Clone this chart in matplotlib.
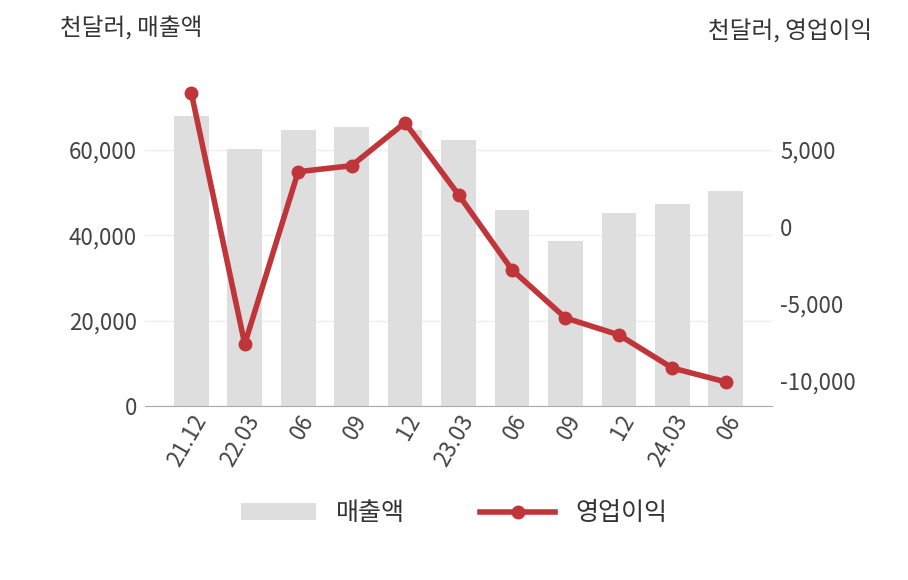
import matplotlib
matplotlib.use("Agg")
import matplotlib.pyplot as plt
import numpy as np

plt.rcParams['font.family'] = ['Noto Sans CJK KR', 'DejaVu Sans']

categories = ["21.12", "22.03", "06", "09", "12", "23.03", "06", "09", "12", "24.03", "06"]
sales = [68000, 60200, 64700, 65200, 64500, 62300, 45900, 38700, 45200, 47300, 50400]
op_income = [8700, -7600, 3570, 3960, 6750, 2080, -2790, -5910, -7010, -9160, -10060]

fig = plt.figure(figsize=(9.08, 5.80), dpi=100)
ax = fig.add_axes([0.16, 0.30, 0.69, 0.58])
x = np.arange(len(categories))
ax.bar(x, sales, width=0.65, color='#dedede', label='매출액', zorder=2)
ax.set_ylim(0, 78750)
ax.set_xlim(-0.86, len(categories) - 0.14)
ax.set_yticks([0, 20000, 40000, 60000])
ax.set_yticklabels(['0', '20,000', '40,000', '60,000'])
ax.grid(axis='y', color='#eeeeee', lw=1, zorder=0)
for s in ['top', 'right', 'left']:
    ax.spines[s].set_visible(False)
ax.spines['bottom'].set_color('#aaaaaa')
ax.tick_params(axis='y', length=0, labelsize=16, labelcolor='#444444', pad=6)
ax.tick_params(axis='x', length=0, labelsize=16, labelcolor='#444444')
ax.set_xticks(x)
ax.set_xticklabels(categories, rotation=60, ha='right', rotation_mode='anchor')

ax2 = ax.twinx()
ax2.plot(x, op_income, color='#c0353a', lw=4, marker='o', ms=9, label='영업이익', zorder=3)
ax2.set_ylim(-11620, 10190)
ax2.set_yticks([-10000, -5000, 0, 5000])
ax2.set_yticklabels(['-10,000', '-5,000', '0', '5,000'])
for s in ax2.spines.values():
    s.set_visible(False)
ax2.tick_params(axis='y', length=0, labelsize=16, labelcolor='#444444', pad=6)

fig.text(0.066, 0.95, '천달러, 매출액', fontsize=17, color='#333333', va='center')
fig.text(0.96, 0.945, '천달러, 영업이익', fontsize=17, color='#333333', va='center', ha='right')

h1, l1 = ax.get_legend_handles_labels()
h2, l2 = ax2.get_legend_handles_labels()
fig.legend(h1 + h2, l1 + l2, loc='center', bbox_to_anchor=(0.5, 0.115), ncol=2,
           frameon=False, fontsize=18, handlelength=3, columnspacing=3,
           labelcolor='#333333')
fig.savefig('out.png', dpi=100)
